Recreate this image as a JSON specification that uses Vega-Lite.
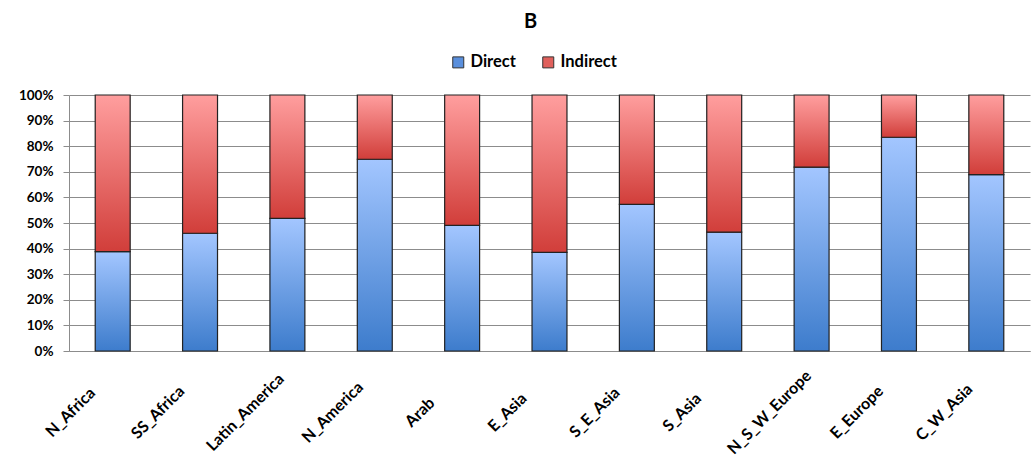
{
  "$schema": "https://vega.github.io/schema/vega-lite/v6.json",
  "autosize": "none",
  "width": 961,
  "height": 256,
  "padding": {"left": 69, "top": 95, "right": 2, "bottom": 112},
  "background": "#ffffff",
  "config": {
    "view": {"stroke": null},
    "font": "Lato"
  },
  "title": {
    "text": "B",
    "anchor": "middle",
    "frame": "group",
    "dx": -19,
    "offset": 22,
    "fontSize": 20,
    "fontWeight": "bold",
    "font": "Lato",
    "color": "#000000"
  },
  "data": {
    "values": [
      {"region": "N_Africa", "type": "Direct", "value": 38.8},
      {"region": "N_Africa", "type": "Indirect", "value": 61.2},
      {"region": "SS_Africa", "type": "Direct", "value": 46.0},
      {"region": "SS_Africa", "type": "Indirect", "value": 54.0},
      {"region": "Latin_America", "type": "Direct", "value": 51.8},
      {"region": "Latin_America", "type": "Indirect", "value": 48.2},
      {"region": "N_America", "type": "Direct", "value": 74.9},
      {"region": "N_America", "type": "Indirect", "value": 25.1},
      {"region": "Arab", "type": "Direct", "value": 49.1},
      {"region": "Arab", "type": "Indirect", "value": 50.9},
      {"region": "E_Asia", "type": "Direct", "value": 38.5},
      {"region": "E_Asia", "type": "Indirect", "value": 61.5},
      {"region": "S_E_Asia", "type": "Direct", "value": 57.3},
      {"region": "S_E_Asia", "type": "Indirect", "value": 42.7},
      {"region": "S_Asia", "type": "Direct", "value": 46.4},
      {"region": "S_Asia", "type": "Indirect", "value": 53.6},
      {"region": "N_S_W_Europe", "type": "Direct", "value": 71.8},
      {"region": "N_S_W_Europe", "type": "Indirect", "value": 28.2},
      {"region": "E_Europe", "type": "Direct", "value": 83.5},
      {"region": "E_Europe", "type": "Indirect", "value": 16.5},
      {"region": "C_W_Asia", "type": "Direct", "value": 68.9},
      {"region": "C_W_Asia", "type": "Indirect", "value": 31.1}
    ]
  },
  "transform": [
    {"stack": "value", "groupby": ["region"], "sort": [{"field": "type", "order": "ascending"}], "as": ["v0", "v1"], "offset": "normalize"}
  ],
  "encoding": {
    "x": {
      "field": "region",
      "type": "nominal",
      "sort": null,
      "title": null,
      "scale": {"paddingInner": 0.6, "paddingOuter": 0.3},
      "axis": {
        "domainColor": "#8c8c8c",
        "domainWidth": 1,
        "ticks": false,
        "labelAngle": -45,
        "labelAlign": "center",
        "labelBaseline": "middle",
        "labelOffset": -42,
        "labelPadding": 61,
        "labelFont": "Lato",
        "labelFontSize": 16,
        "labelFontWeight": "bold",
        "labelColor": "#000000",
        "labelOverlap": false
      }
    },
    "y": {
      "field": "v1",
      "type": "quantitative",
      "title": null,
      "scale": {"domain": [0, 1], "nice": false},
      "axis": {
        "format": ".0%",
        "values": [0, 0.1, 0.2, 0.3, 0.4, 0.5, 0.6, 0.7, 0.8, 0.9, 1],
        "grid": true,
        "gridColor": "#8c8c8c",
        "gridWidth": 1,
        "domainColor": "#8c8c8c",
        "tickColor": "#8c8c8c",
        "tickSize": 6,
        "labelPadding": 10,
        "labelFont": "Lato",
        "labelFontSize": 13.5,
        "labelFontWeight": "bold",
        "labelColor": "#000000"
      }
    },
    "y2": {"field": "v0"}
  },
  "layer": [
    {
      "mark": {"type": "bar"},
      "encoding": {
        "color": {
          "field": "type",
          "type": "nominal",
          "scale": {"domain": ["Direct", "Indirect"], "range": ["#5a8fdc", "#e0605c"]},
          "legend": {
            "title": null,
            "orient": "none",
            "direction": "horizontal",
            "legendX": 381,
            "legendY": -41,
            "padding": 0,
            "symbolType": "square",
            "symbolSize": 121,
            "symbolStrokeColor": "#333333",
            "symbolStrokeWidth": 1,
            "labelFont": "Lato",
            "labelFontSize": 16.5,
            "labelFontWeight": "bold",
            "labelColor": "#000000",
            "labelOffset": 4,
            "columnPadding": 24
          }
        }
      }
    },
    {
      "transform": [{"filter": "datum.type === 'Direct'"}],
      "mark": {
        "type": "bar",
        "stroke": "#222222",
        "strokeWidth": 1.2,
        "fill": {
          "gradient": "linear",
          "x1": 0, "y1": 0, "x2": 0, "y2": 1,
          "stops": [
            {"offset": 0, "color": "#a3c6ff"},
            {"offset": 1, "color": "#3d7ccc"}
          ]
        }
      }
    },
    {
      "transform": [{"filter": "datum.type === 'Indirect'"}],
      "mark": {
        "type": "bar",
        "stroke": "#222222",
        "strokeWidth": 1.2,
        "fill": {
          "gradient": "linear",
          "x1": 0, "y1": 0, "x2": 0, "y2": 1,
          "stops": [
            {"offset": 0, "color": "#ff9e9e"},
            {"offset": 1, "color": "#d13e3a"}
          ]
        }
      }
    }
  ]
}
